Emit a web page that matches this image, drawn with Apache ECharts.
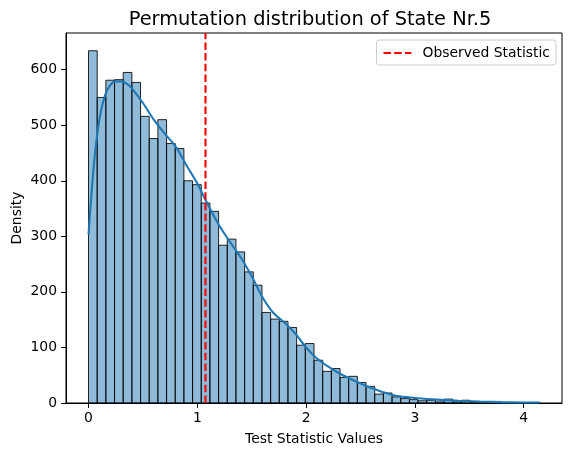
<!DOCTYPE html>
<html>
<head>
<meta charset="utf-8">
<script src="https://cdn.jsdelivr.net/npm/echarts@6/dist/echarts.min.js"></script>
<style>
html,body{margin:0;padding:0;background:#fff;}
#chart{width:571px;height:456px;}
</style>
</head>
<body>
<div id="chart"></div>
<script>
// Histogram counts (52 equal bins from 0 to 4.145)
const binMin = 0;
const binMax = 4.145;
const counts = [634, 550, 581, 582, 595, 577, 516, 476, 510, 467,
                458, 400, 393, 360, 345, 284, 295, 272, 236, 212,
                163, 151, 147, 136, 104, 107, 77, 57, 62, 46,
                48, 37, 30, 16, 18, 11, 8, 6, 4, 5,
                2, 7, 2, 5, 1, 1, 1, 0, 0, 0,
                0, 1];
// KDE curve
const kdeX = [0, 0.05, 0.1, 0.15, 0.2, 0.25, 0.3, 0.35, 0.4, 0.5,
              0.6, 0.7, 0.8, 0.9, 1.0, 1.1, 1.2, 1.3, 1.4, 1.5,
              1.6, 1.7, 1.8, 1.9, 2.0, 2.1, 2.2, 2.3, 2.4, 2.5,
              2.6, 2.7, 2.8, 2.9, 3.0, 3.2, 3.4, 3.6, 3.8, 4.0, 4.145];
const kdeY = [303, 430, 510, 553, 572, 579, 579, 575, 566, 540,
              510, 485, 462, 428, 395, 356, 320, 290, 262, 228,
              190, 162, 145, 125, 100, 80, 66, 54, 44, 35,
              27, 20, 14, 11, 9, 6, 4, 2.5, 1.5, 1, 0.8];
const observed = [1.075];
const xTicks = [0, 1, 2, 3, 4];
const yTicks = [0, 100, 200, 300, 400, 500, 600];

const xMin = -0.207, xMax = 4.352, yMax = 666;
const binW = (binMax - binMin) / counts.length;
const barData = counts.map((c, i) => [binMin + i * binW, binMin + (i + 1) * binW, c]);
const kdeData = kdeX.map((x, i) => [x, kdeY[i]]);
const obsData = [[observed[0], 0], [observed[0], yMax]];

const FONT = 'DejaVu Sans';
const FS = 13.9;
const chart = echarts.init(document.getElementById('chart'));
chart.setOption({
  animation: false,
  backgroundColor: '#fff',
  title: {
    text: 'Permutation distribution of State Nr.5',
    left: 305, textAlign: 'center', top: 5,
    textStyle: {fontFamily: FONT, fontSize: 19.4, fontWeight: 'normal', color: '#000'}
  },
  legend: {
    data: ['Observed Statistic'],
    right: 15, top: 40,
    padding: [6, 6, 5, 6],
    itemWidth: 28, itemHeight: 12,
    itemStyle: {opacity: 0},
    borderColor: '#cccccc', borderWidth: 1, borderRadius: 3,
    backgroundColor: 'rgba(255,255,255,0.8)',
    textStyle: {fontFamily: FONT, fontSize: FS, color: '#000', padding: [0, 0, 0, 6]}
  },
  grid: {left: 66, right: 9, top: 33, bottom: 53, outerBoundsMode: 'none', containLabel: false,
         show: true, borderColor: '#000', borderWidth: 1, backgroundColor: 'transparent'},
  xAxis: {
    type: 'value', min: xMin, max: xMax,
    name: 'Test Statistic Values', nameLocation: 'middle', nameGap: 29, nameMoveOverlap: false,
    nameTextStyle: {fontFamily: FONT, fontSize: FS, color: '#000'},
    axisLine: {show: true, onZero: false, lineStyle: {color: '#000', width: 1}},
    axisTick: {show: true, length: 4.9, customValues: xTicks, lineStyle: {color: '#000'}},
    axisLabel: {customValues: xTicks, margin: 8, fontFamily: FONT, fontSize: FS, color: '#000'},
    splitLine: {show: false}
  },
  yAxis: {
    type: 'value', min: 0, max: yMax,
    name: 'Density', nameLocation: 'middle', nameGap: 42, nameMoveOverlap: false,
    nameTextStyle: {fontFamily: FONT, fontSize: FS, color: '#000'},
    axisLine: {show: true, onZero: false, lineStyle: {color: '#000', width: 1}},
    axisTick: {show: true, length: 4.9, customValues: yTicks, lineStyle: {color: '#000'}},
    axisLabel: {customValues: yTicks, margin: 9, fontFamily: FONT, fontSize: FS, color: '#000'},
    splitLine: {show: false}
  },
  series: [
    {
      type: 'custom', name: 'hist',
      encode: {x: [0, 1], y: 2},
      data: barData,
      renderItem: function (params, api) {
        const p0 = api.coord([api.value(0), api.value(2)]);
        const p1 = api.coord([api.value(1), 0]);
        return {
          type: 'rect',
          shape: {x: p0[0], y: p0[1], width: p1[0] - p0[0], height: p1[1] - p0[1]},
          style: {fill: 'rgba(31,119,180,0.5)', stroke: 'rgba(0,0,0,0.85)', lineWidth: 1}
        };
      },
      z: 1
    },
    {
      type: 'line', name: 'kde', data: kdeData, smooth: 0.3,
      symbol: 'none', lineStyle: {color: '#1f77b4', width: 2.1}, z: 3
    },
    {
      type: 'line', name: 'Observed Statistic', data: obsData,
      symbol: 'none', color: '#ff0000',
      lineStyle: {color: '#ff0000', width: 2.1, type: [7.5, 3.2]}, z: 4
    }
  ]
});
</script>
</body>
</html>
